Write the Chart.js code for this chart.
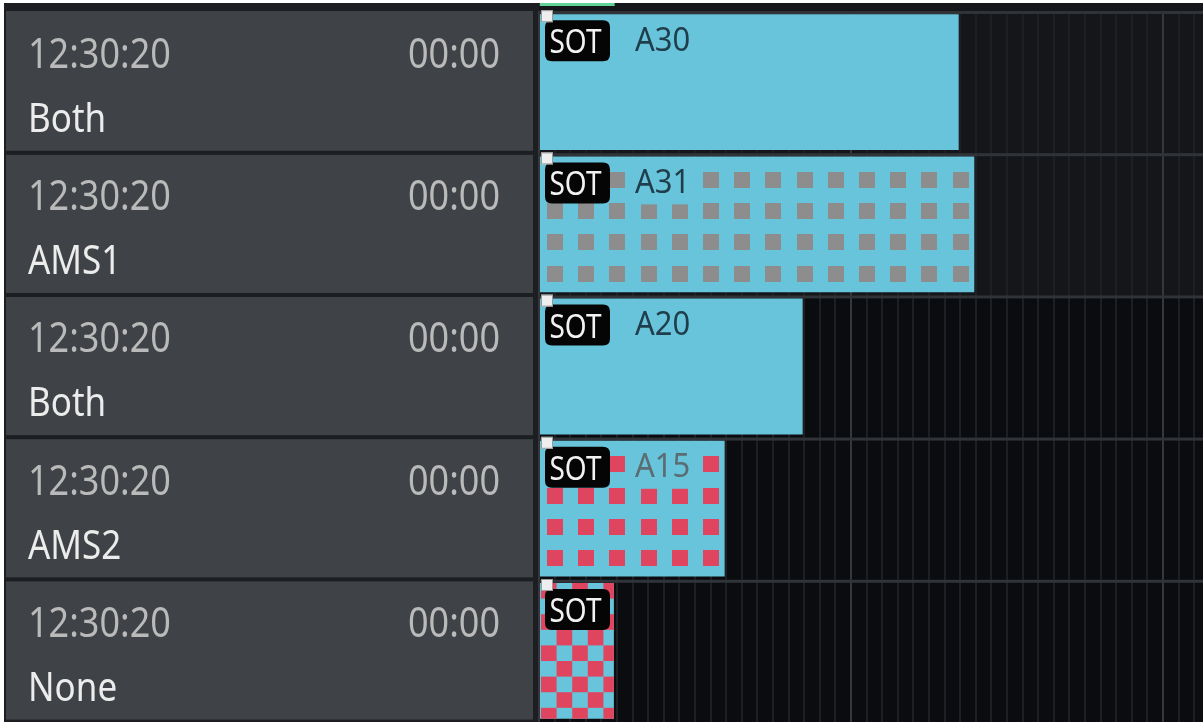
<!DOCTYPE html>
<html>
<head>
<meta charset="utf-8">
<script src="https://cdn.jsdelivr.net/npm/chart.js@4/dist/chart.umd.min.js"></script>
<style>
html,body{margin:0;padding:0;background:#ffffff;overflow:hidden}
#wrap{position:relative;width:1203px;height:722px}
canvas{display:block}
</style>
</head>
<body>
<div id="wrap"><canvas id="c" width="1203" height="722"></canvas></div>
<script>
// ---- data ----
const rows = ['Row 1', 'Row 2', 'Row 3', 'Row 4', 'Row 5'];
const startTimes = ['12:30:20', '12:30:20', '12:30:20', '12:30:20', '12:30:20'];
const durations = ['00:00', '00:00', '00:00', '00:00', '00:00'];
const routings = ['Both', 'AMS1', 'Both', 'AMS2', 'None'];
const clipTags = ['SOT', 'SOT', 'SOT', 'SOT', 'SOT'];
const clipNames = ['A30', 'A31', 'A20', 'A15', ''];
const clipLengths = [26.9, 27.9, 16.9, 11.9, 4.8];
const progressMarker = [0.05, 4.85];

// ---- styles ----
const CYAN = '#68c4da';
const RED = '#e0455f';
const clipFills = [null, {type: 'dots', color: '#8d8d8d'}, null, {type: 'dots', color: RED}, {type: 'checker', color: RED}];
const clipNameColors = ['#1f3d4a', '#1f3d4a', '#1f3d4a', '#5b6c73', '#1f3d4a'];
const rowBackgrounds = ['#14161a', '#14161a', '#0a0c0f', '#0a0c0f', '#0a0c0f'];
const FONT = '"Noto Sans", "Open Sans", sans-serif';

function stretchedText(ctx, text, x, y, font, color, align, sy) {
  ctx.save();
  ctx.font = font;
  ctx.fillStyle = color;
  ctx.textAlign = align;
  ctx.textBaseline = 'alphabetic';
  ctx.translate(x, y);
  ctx.scale(1, sy);
  ctx.fillText(text, 0, 0);
  ctx.restore();
}

function roundRect(ctx, x, y, w, h, r) {
  ctx.beginPath();
  ctx.moveTo(x + r, y);
  ctx.lineTo(x + w - r, y);
  ctx.quadraticCurveTo(x + w, y, x + w, y + r);
  ctx.lineTo(x + w, y + h - r);
  ctx.quadraticCurveTo(x + w, y + h, x + w - r, y + h);
  ctx.lineTo(x + r, y + h);
  ctx.quadraticCurveTo(x, y + h, x, y + h - r);
  ctx.lineTo(x, y + r);
  ctx.quadraticCurveTo(x, y, x + r, y);
  ctx.closePath();
}

const timelinePlugin = {
  id: 'timeline',
  beforeDraw(chart) {
    const {ctx, chartArea: ca, scales: {x, y}} = chart;
    const W = chart.width, H = chart.height;
    const bh = y.height / rows.length;
    ctx.save();
    ctx.fillStyle = '#ffffff';
    ctx.fillRect(0, 0, W, H);
    ctx.fillStyle = '#1c1e21';
    ctx.fillRect(4, 3, W - 4, H - 3);
    // top strip
    ctx.fillStyle = '#15171a';
    ctx.fillRect(ca.left, 3, W - ca.left, ca.top - 3);
    ctx.fillStyle = '#63d497';
    const g0 = x.getPixelForValue(progressMarker[0]);
    const g1 = x.getPixelForValue(progressMarker[1]);
    ctx.fillRect(g0, 3, g1 - g0, 3);
    rows.forEach((r, i) => {
      const t = y.getPixelForValue(i) - bh / 2;
      const b = t + bh;
      // timeline row background
      ctx.fillStyle = rowBackgrounds[i];
      ctx.fillRect(ca.left, t, ca.right - ca.left, bh);
      // left panel row
      ctx.fillStyle = '#3f4246';
      const top = i === 0 ? t : t + 1.6;
      ctx.fillRect(6, top, 527, (b - 2.4) - top);
      stretchedText(ctx, startTimes[i], 28, t + 57, '36px ' + FONT, '#bababa', 'left', 1.14);
      stretchedText(ctx, durations[i], 500, t + 57, '36px ' + FONT, '#bababa', 'right', 1.14);
      stretchedText(ctx, routings[i], 28, t + 121, '35px ' + FONT, '#ececec', 'left', 1.14);
    });
    ctx.restore();
  },
  beforeDatasetsDraw(chart) {
    const {ctx, chartArea: ca, scales: {y}} = chart;
    const bh = y.height / rows.length;
    ctx.save();
    rows.forEach((r, i) => {
      const t = y.getPixelForValue(i) - bh / 2;
      ctx.fillStyle = '#303338';
      ctx.fillRect(ca.left, t, ca.right - ca.left, 3);
    });
    ctx.restore();
  },
  afterDatasetsDraw(chart) {
    const {ctx, scales: {x}} = chart;
    const unit = Math.abs(x.getPixelForValue(1) - x.getPixelForValue(0));
    const meta = chart.getDatasetMeta(0);
    meta.data.forEach((bar, i) => {
      const p = bar.getProps(['x', 'y', 'base', 'height'], true);
      const L = Math.min(p.base, p.x), R = Math.max(p.base, p.x);
      const T = p.y - p.height / 2, B = p.y + p.height / 2;
      ctx.save();
      ctx.beginPath();
      ctx.rect(L + 1, T, R - L - 1, B - T);
      ctx.clip();
      const fill = clipFills[i];
      if (fill && fill.type === 'dots') {
        const pitch = unit * 2, size = 16;
        ctx.fillStyle = fill.color;
        for (let yy = T + 15.5; yy + size <= B; yy += pitch) {
          for (let xx = L + 7; xx + size <= R; xx += pitch) {
            ctx.fillRect(Math.round(xx), Math.round(yy), size, size);
          }
        }
      } else if (fill && fill.type === 'checker') {
        const cell = unit;
        ctx.fillStyle = fill.color;
        let r = 0;
        for (let yy = T; yy < B; yy += cell, r++) {
          let c = 0;
          for (let xx = L + 1; xx < R; xx += cell, c++) {
            if ((r + c) % 2 === 0) ctx.fillRect(xx, yy, cell, cell);
          }
        }
      }
      ctx.restore();
      ctx.save();
      // clip name
      if (clipNames[i]) {
        ctx.fillStyle = CYAN;
        ctx.fillRect(L + 88, T + 6, 74, 42);
        stretchedText(ctx, clipNames[i], L + 95, T + 36.5, '31px ' + FONT, clipNameColors[i], 'left', 1.05);
      }
      // badge
      ctx.fillStyle = '#050505';
      roundRect(ctx, L + 5, T + 6, 65, 41, 7);
      ctx.fill();
      stretchedText(ctx, clipTags[i], L + 9.5, T + 39, '28px ' + FONT, '#f2f2f2', 'left', 1.16);
      // corner handle
      ctx.fillStyle = '#eeeeee';
      ctx.fillRect(L + 1, T - 4, 12, 12);
      ctx.strokeStyle = '#9a9a9a';
      ctx.lineWidth = 1;
      ctx.strokeRect(L + 1.5, T - 3.5, 11, 11);
      ctx.restore();
    });
  }
};

new Chart(document.getElementById('c'), {
  type: 'bar',
  data: {
    labels: rows,
    datasets: [{
      data: clipLengths,
      backgroundColor: CYAN,
      borderWidth: 0,
      barPercentage: 0.955,
      categoryPercentage: 1
    }]
  },
  options: {
    indexAxis: 'y',
    responsive: false,
    animation: false,
    devicePixelRatio: 1,
    layout: {padding: {left: 539, top: 11, right: 0, bottom: 0}},
    plugins: {legend: {display: false}, tooltip: {enabled: false}},
    scales: {
      x: {
        type: 'linear',
        min: 0,
        max: 42.56,
        display: true,
        border: {display: false},
        ticks: {display: false, stepSize: 1, includeBounds: false},
        grid: {
          drawTicks: false,
          lineWidth: 2,
          color: (c) => (c.tick && c.tick.value % 20 === 0) ? '#34373c' : '#1c1f24'
        }
      },
      y: {
        type: 'category',
        display: false
      }
    }
  },
  plugins: [timelinePlugin]
});
</script>
</body>
</html>
